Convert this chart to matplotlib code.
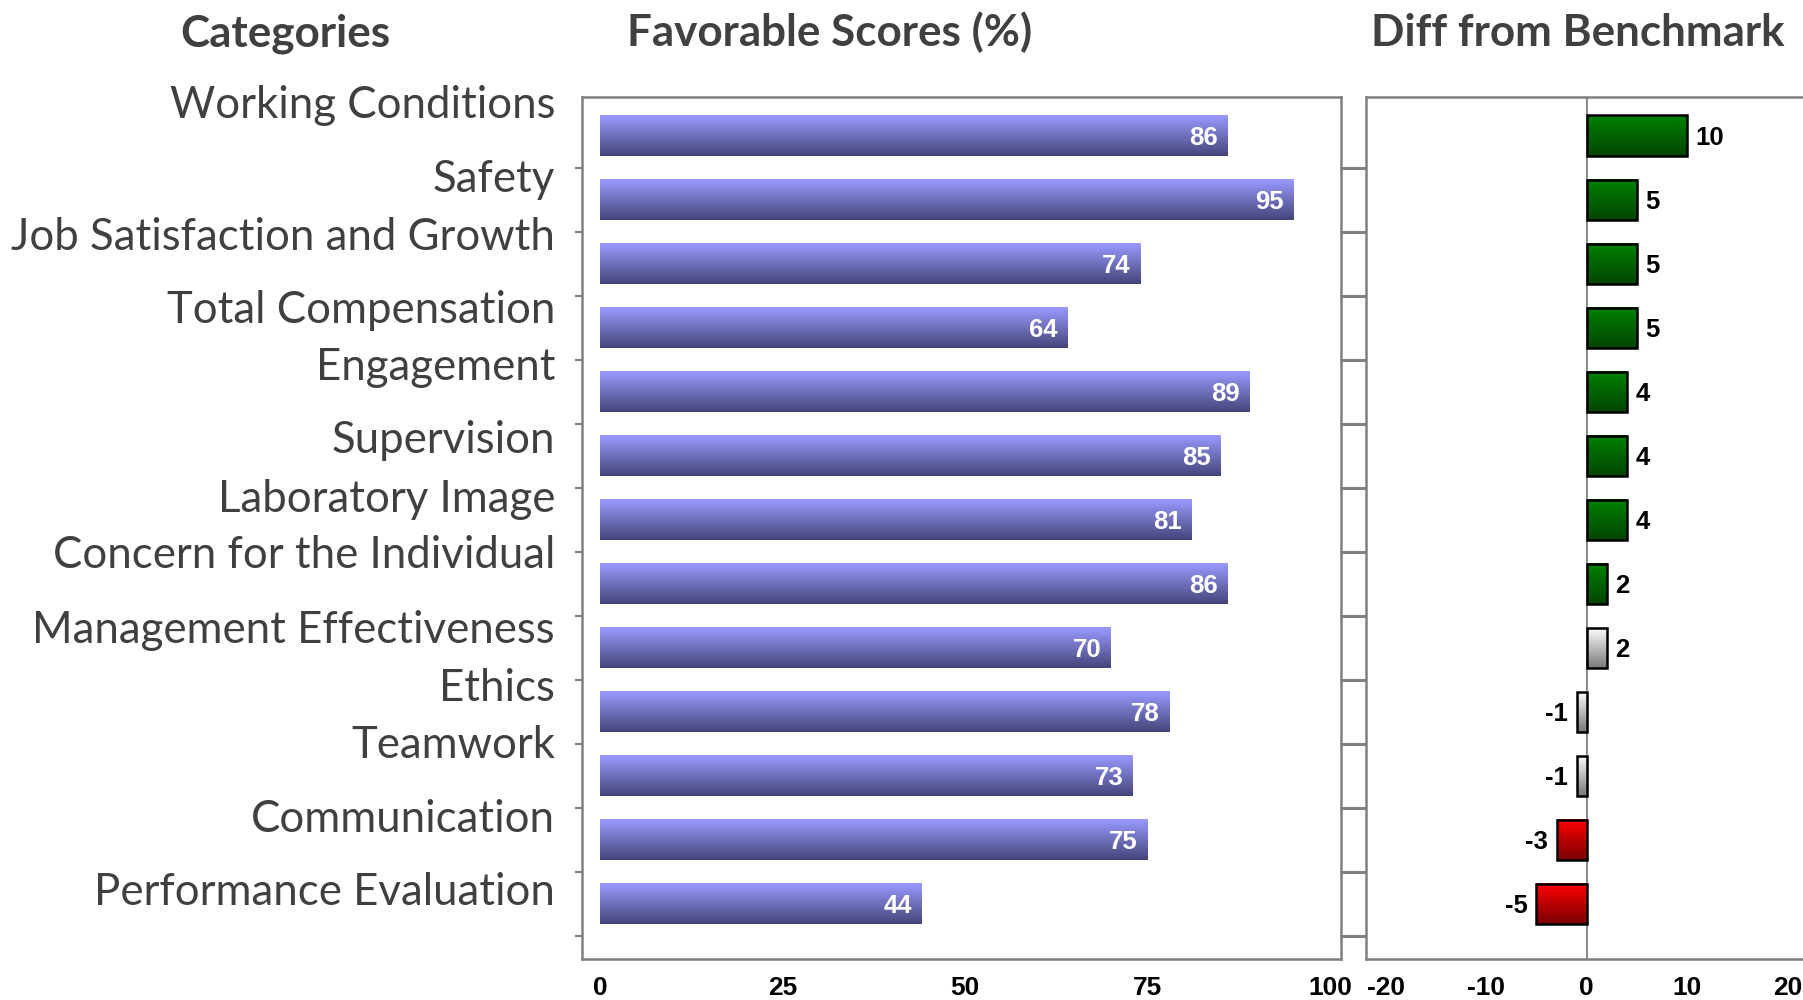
import numpy as np
import matplotlib
matplotlib.use("Agg")
import matplotlib.pyplot as plt
from matplotlib.colors import to_rgb

# ---------------- data ----------------
categories = ["Working Conditions", "Safety", "Job Satisfaction and Growth",
              "Total Compensation", "Engagement", "Supervision",
              "Laboratory Image", "Concern for the Individual",
              "Management Effectiveness", "Ethics", "Teamwork",
              "Communication", "Performance Evaluation"]
scores = [86, 95, 74, 64, 89, 85, 81, 86, 70, 78, 73, 75, 44]
diffs = [10, 5, 5, 5, 4, 4, 4, 2, 2, -1, -1, -3, -5]
diff_class = ["pos"] * 8 + ["neutral"] * 3 + ["neg"] * 2
score_ticks = [0, 25, 50, 75, 100]
diff_ticks = [-20, -10, 0, 10, 20]
titles = ["Categories", "Favorable Scores (%)", "Diff from Benchmark"]

# ---------------- styles / layout ----------------
W, H = 1803, 1000
GRAY = "#808080"
TXT = "#404040"
grad = {
    "score": ("#9a9aff", "#45457a"),
    "pos": ("#008200", "#004400"),
    "neutral": ("#ffffff", "#7a7a7a"),
    "neg": ("#ff0000", "#7a0000"),
}
# baselines (px from top) of the free-floating category labels
label_baseline_px = [118, 192, 250, 323, 380, 453, 512, 568, 643, 701, 758, 832, 905]
title_x_px = [285, 830, 1578]

fig = plt.figure(figsize=(W / 100, H / 100), dpi=100)
fig.patch.set_facecolor("white")
renderer = fig.canvas.get_renderer()


def fit_size(text, target_px, base=20, **kw):
    t = fig.text(0, 0, text, fontsize=base, **kw)
    w = t.get_window_extent(renderer).width
    t.remove()
    return base * target_px / w


def px_box(x0, y0, x1, y1):
    return [x0 / W, 1 - y1 / H, (x1 - x0) / W, (y1 - y0) / H]


ax1 = fig.add_axes(px_box(582, 96.6, 1341, 959))
ax2 = fig.add_axes(px_box(1366, 96.6, 1803, 959))

n = len(categories)
ypos = np.arange(n)
bar_h = 0.63
YLIM = (12.86, -0.61)


def gradient_fill(ax, bars, colors):
    for b, (c_top, c_bot) in zip(bars, colors):
        x0, y0 = b.get_x(), b.get_y()
        w, h = b.get_width(), b.get_height()
        t = np.linspace(0, 1, 64)[:, None]
        top = np.array(to_rgb(c_top))
        bot = np.array(to_rgb(c_bot))
        img = (top * (1 - t) + bot * t)[:, None, :]
        xa, xb = min(x0, x0 + w), max(x0, x0 + w)
        ax.imshow(img, extent=(xa, xb, y0 + h, y0), origin="upper",
                  aspect="auto", zorder=2, interpolation="bilinear")


# ---------------- left panel ----------------
bars1 = ax1.barh(ypos, scores, height=bar_h, color="none", zorder=3)
gradient_fill(ax1, bars1, [grad["score"]] * n)
for b, v in zip(bars1, scores):
    ax1.annotate(str(v), (b.get_x() + b.get_width(), b.get_y() + b.get_height() / 2),
                 xytext=(-7, -1.5), textcoords="offset points", ha="right", va="center",
                 color="white", fontsize=18.5, fontweight="bold",
                 family="Liberation Sans", zorder=5)
ax1.set_xlim(-2.5, 101.5)
ax1.set_ylim(*YLIM)

# ---------------- right panel ----------------
bars2 = ax2.barh(ypos, diffs, height=bar_h, color="none", edgecolor="black",
                 linewidth=1.8, zorder=4)
gradient_fill(ax2, bars2, [grad[c] for c in diff_class])
for b, v in zip(bars2, diffs):
    end = b.get_x() + b.get_width()
    ax2.annotate(str(v), (end, b.get_y() + b.get_height() / 2),
                 xytext=(6 if v >= 0 else -6, -1.5), textcoords="offset points",
                 ha="left" if v >= 0 else "right", va="center",
                 color="black", fontsize=18.5, fontweight="bold",
                 family="Liberation Sans", zorder=5)
ax2.axvline(0, color=GRAY, lw=1.3, zorder=1)
ax2.set_xlim(-21.94, 21.49)
ax2.set_ylim(*YLIM)

# ---------------- axes styling ----------------
for ax, ticks in ((ax1, score_ticks), (ax2, diff_ticks)):
    ax.set_xticks(ticks)
    ax.set_xticklabels([str(t) for t in ticks])
    ax.tick_params(axis="x", length=0, pad=12.5, labelsize=19, labelcolor="black")
    for lbl in ax.get_xticklabels():
        lbl.set_fontweight("bold")
        lbl.set_family("Liberation Sans")
    ax.set_yticks(ypos + 0.5)
    ax.set_yticklabels([])
    for s in ax.spines.values():
        s.set_color(GRAY)
        s.set_linewidth(1.8)

ax1.tick_params(axis="y", direction="out", length=5, width=1.5, color=GRAY)
ax2.tick_params(axis="y", direction="out", length=19, width=2.2, color=GRAY)
ax2.spines["right"].set_visible(False)

# ---------------- category labels ----------------
lab_fs = fit_size("Job Satisfaction and Growth", 544, family="Lato")
for name, yb in zip(categories, label_baseline_px):
    fig.text(555 / W, 1 - yb / H, name, ha="right", va="baseline",
             fontsize=lab_fs, family="Lato", color=TXT)

# ---------------- titles ----------------
tit_fs = fit_size("Favorable Scores (%)", 405, family="Lato", fontweight="bold")
for t, x in zip(titles, title_x_px):
    fig.text(x / W, 1 - 46 / H, t, ha="center", va="baseline",
             fontsize=tit_fs, family="Lato", fontweight="bold", color=TXT)

fig.savefig("out.png", dpi=100, facecolor="white")
